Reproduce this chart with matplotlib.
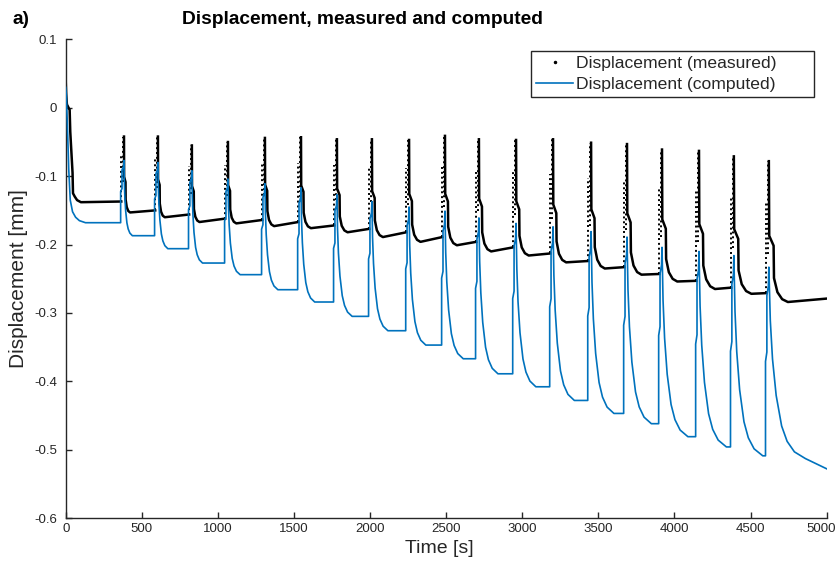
import matplotlib
matplotlib.use('Agg')
import matplotlib.pyplot as plt
from matplotlib.lines import Line2D
from matplotlib.transforms import ScaledTranslation
import numpy as np

# ---------------- data ----------------
# times of the loading spikes (peak of the measured signal) [s]
peak_time = [383, 606, 829, 1066, 1309, 1546, 1782, 2012, 2256, 2492,
             2715, 2959, 3202, 3452, 3688, 3918, 4161, 4390, 4620]

# measured displacement [mm]
meas_peak = [-0.042, -0.042, -0.055, -0.050, -0.044, -0.043, -0.046, -0.046, -0.047, -0.041,
             -0.046, -0.047, -0.046, -0.051, -0.053, -0.061, -0.063, -0.071, -0.078]
meas_low = [-0.138, -0.153, -0.160, -0.167, -0.169, -0.173, -0.176, -0.182, -0.189, -0.196,
            -0.201, -0.210, -0.216, -0.226, -0.235, -0.244, -0.254, -0.265, -0.272, -0.284]
meas_high = [-0.137, -0.150, -0.156, -0.162, -0.164, -0.167, -0.172, -0.177, -0.182, -0.189,
             -0.196, -0.204, -0.213, -0.224, -0.233, -0.243, -0.253, -0.263, -0.271, -0.279]
meas_decay = [40, 45, 50, 55, 60, 65, 70, 72, 75, 78, 80, 83, 86, 90, 95, 100, 105, 115, 125]
meas_init_t = [0, 3, 8, 26, 30, 45, 48, 60, 75, 100]
meas_init_v = [0.040, 0.020, 0.005, -0.003, -0.035, -0.095, -0.125, -0.130, -0.135, -0.138]
meas_shape_u = [0, 0.02, 0.25, 0.27, 0.45, 0.70, 1.0]
meas_shape_f = [1, 0.47, 0.40, 0.17, 0.07, 0.02, 0]

# computed displacement [mm]
comp_peak = [-0.077, -0.080, -0.092, -0.104, -0.111, -0.117, -0.127, -0.137, -0.145, -0.151,
             -0.161, -0.169, -0.174, -0.181, -0.189, -0.204, -0.210, -0.216, -0.233]
comp_plateau = [-0.168, -0.187, -0.206, -0.227, -0.244, -0.266, -0.284, -0.305, -0.326, -0.347,
                -0.367, -0.389, -0.408, -0.428, -0.447, -0.462, -0.481, -0.496, -0.509, -0.513]
comp_decay = [55, 65, 70, 80, 85, 90, 100, 105, 110, 120, 125, 130, 140, 150, 160, 170, 180, 190, 240]
comp_end = -0.528
comp_init_t = [0, 4, 10, 20, 30, 45, 65, 90, 130]
comp_init_v = [0.030, 0.020, -0.018, -0.090, -0.135, -0.152, -0.160, -0.165, -0.168]
comp_shape_u = [0, 0.04, 0.10, 0.20, 0.35, 0.50, 0.70, 1.0]
comp_shape_f = [1, 0.72, 0.52, 0.33, 0.17, 0.09, 0.035, 0]
comp_rise_dt = [0, 0, 9, 9, 19, 22]
comp_rise_f = [0, 0.5, 0.55, 0.85, 0.9, 1.0]

x_ticks = [0, 500, 1000, 1500, 2000, 2500, 3000, 3500, 4000, 4500, 5000]
y_ticks = [0.1, 0, -0.1, -0.2, -0.3, -0.4, -0.5, -0.6]

BLUE = '#0072BD'
DARK = '#262626'
n = len(peak_time)

# ---------------- assemble the computed curve ----------------
ct = list(comp_init_t)
cv = list(comp_init_v)
for k in range(n):
    tp = peak_time[k]
    ton = tp - 22
    pre, post, pk = comp_plateau[k], comp_plateau[k + 1], comp_peak[k]
    for dt, f in zip(comp_rise_dt, comp_rise_f):
        ct.append(ton + dt)
        cv.append(pre + f * (pk - pre))
    nxt = peak_time[k + 1] - 22 if k < n - 1 else 5000
    for u, f in zip(comp_shape_u[1:], comp_shape_f[1:]):
        t = tp + u * comp_decay[k]
        if t < nxt - 3:
            ct.append(t)
            cv.append(post + f * (pk - post))
ct.append(5000)
cv.append(comp_end)

# ---------------- assemble the measured curve ----------------
st, sv = list(meas_init_t), list(meas_init_v)
st.append(peak_time[0] - 18)
sv.append(meas_high[0])
dt_, dv_ = [], []
for k in range(n):
    tp = peak_time[k]
    pre, post, pk = meas_high[k], meas_low[k + 1], meas_peak[k]
    a = pk - pre
    dt_ += [tp - 18, tp - 18, np.nan, tp - 8, tp - 8, np.nan]
    dv_ += [pre, pk - 0.3 * a, np.nan, pre + 0.3 * a, pk, np.nan]
    st.append(np.nan)
    sv.append(np.nan)
    for u, f in zip(meas_shape_u, meas_shape_f):
        st.append(tp + u * meas_decay[k])
        sv.append(post + f * (pk - post))
    nxt = peak_time[k + 1] - 18 if k < n - 1 else 5000
    st.append(nxt)
    sv.append(meas_high[k + 1])

# ---------------- figure ----------------
plt.rcParams['font.family'] = ['Liberation Sans', 'DejaVu Sans']
fig = plt.figure(figsize=(8.38, 5.61), dpi=100)
ax = fig.add_axes([0.0784, 0.0766, 0.9081, 0.853])

ax.plot(dt_, dv_, color='k', lw=1.4, linestyle=(0, (1, 1.5)), zorder=2)
ax.plot(st, sv, color='k', lw=1.8, zorder=2)
ax.plot(ct, cv, color=BLUE, lw=1.2, zorder=3)

ax.set_xlim(0, 5000)
ax.set_ylim(-0.6, 0.1)
ax.set_xticks(x_ticks)
ax.set_yticks(y_ticks)
ax.set_xticklabels([str(v) for v in x_ticks])
ax.set_yticklabels(['0.1', '0', '-0.1', '-0.2', '-0.3', '-0.4', '-0.5', '-0.6'])
ax.spines['top'].set_visible(False)
ax.spines['right'].set_visible(False)
for s in ('left', 'bottom'):
    ax.spines[s].set_color(DARK)
    ax.spines[s].set_linewidth(1.0)
ax.tick_params(direction='in', length=4.5, width=1.0, color=DARK,
               labelcolor=DARK, labelsize=9.5)
ax.tick_params(axis='y', pad=6)
ax.tick_params(axis='x', pad=3.5)
last = ax.get_xticklabels()[-1]
last.set_transform(last.get_transform() + ScaledTranslation(-6 / 100, 0, fig.dpi_scale_trans))

ax.set_xlabel('Time [s]', fontsize=14, color=DARK)
ax.xaxis.set_label_coords((439 - 65.7) / 761, -0.046)
ax.set_ylabel('Displacement [mm]', fontsize=15, color=DARK)
ax.yaxis.set_label_coords(-0.05, 0.5)

fig.text(362 / 838, 1 - 20 / 561, 'Displacement, measured and computed',
         ha='center', va='center', fontsize=13.8, fontweight='bold', color='k')
fig.text(12 / 838, 1 - 20 / 561, 'a)', ha='left', va='center',
         fontsize=13.8, fontweight='bold', color='k')

handles = [Line2D([], [], color='k', marker='.', markersize=3, linestyle='None'),
           Line2D([], [], color=BLUE, lw=1.2)]
leg = ax.legend(handles, ['Displacement (measured)', 'Displacement (computed)'],
                loc='upper left', bbox_to_anchor=(0.6114, 0.880, 0.3719, 0.096),
                mode='expand', borderaxespad=0,
                fancybox=False, framealpha=1, edgecolor=DARK, fontsize=12.6,
                handlelength=2.1, handletextpad=0.17, borderpad=0.3, labelspacing=0.3)
leg.get_frame().set_linewidth(1.0)
for t in leg.get_texts():
    t.set_color(DARK)

fig.savefig('out.png', dpi=100)
